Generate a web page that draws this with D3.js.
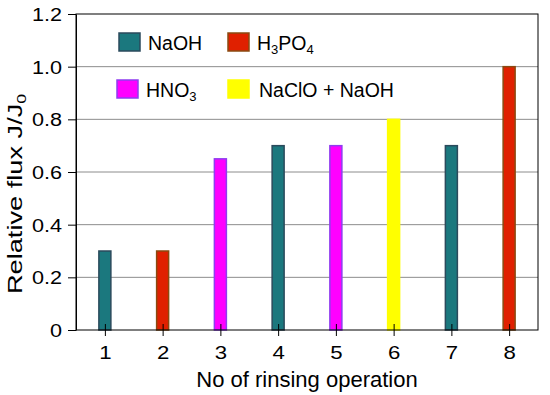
<!DOCTYPE html>
<html>
<head>
<meta charset="utf-8">
<script src="https://cdn.jsdelivr.net/npm/d3@7"></script>
<style>
  body { margin: 0; background: #fff; }
  text { font-family: "Liberation Sans", Arial, sans-serif; fill: #000; }
</style>
</head>
<body>
<div id="chart"></div>
<script>
// data
var operations = [1, 2, 3, 4, 5, 6, 7, 8];
var agents = ["NaOH", "H3PO4", "HNO3", "NaOH", "HNO3", "NaClO + NaOH", "NaOH", "H3PO4"];
var fluxValues = [0.3, 0.3, 0.65, 0.7, 0.7, 0.8, 0.7, 1.0];
var yTicks = [0, 0.2, 0.4, 0.6, 0.8, 1.0, 1.2];
var legendNames = ["NaOH", "H3PO4", "HNO3", "NaClO + NaOH"];

var fills = { "NaOH": "#1b787e", "H3PO4": "#e02000", "HNO3": "#ff00ff", "NaClO + NaOH": "#ffff00" };
var strokes = { "NaOH": "#2b4a5c", "H3PO4": "#8a4a10", "HNO3": "#8f3cf0", "NaClO + NaOH": "#ffff00" };

var width = 550, height = 395,
    margin = { top: 14, right: 12, bottom: 65, left: 76 },
    innerW = width - margin.left - margin.right,
    innerH = height - margin.top - margin.bottom,
    barW = 12;

// the original's lettering is a bit wider than Arial, stretch it
var stretch = function(sel, k) {
    sel.each(function() {
        var len = this.getComputedTextLength();
        d3.select(this).attr("textLength", len * k).attr("lengthAdjust", "spacingAndGlyphs");
    });
};

var svg = d3.select("#chart").append("svg")
    .attr("width", width)
    .attr("height", height);

var g = svg.append("g")
    .attr("transform", "translate(" + margin.left + "," + margin.top + ")");

var x = d3.scaleLinear().domain([0.5, 8.5]).range([0, innerW]);
var y = d3.scaleLinear().domain([0, 1.2]).range([innerH, 0]);

// gridlines
g.append("g").attr("class", "grid")
    .selectAll("line").data(yTicks.filter(function(d) { return d > 0 && d < 1.2; }))
    .enter().append("line")
    .attr("x1", 0).attr("x2", innerW)
    .attr("y1", function(d) { return y(d); })
    .attr("y2", function(d) { return y(d); })
    .attr("stroke", "#8c8c8c")
    .attr("stroke-width", 1);

// bars
g.append("g").selectAll("rect").data(operations).enter().append("rect")
    .attr("x", function(d) { return x(d) - barW / 2; })
    .attr("y", function(d, i) { return y(fluxValues[i]); })
    .attr("width", barW)
    .attr("height", function(d, i) { return innerH - y(fluxValues[i]); })
    .attr("fill", function(d, i) { return fills[agents[i]]; })
    .attr("stroke", function(d, i) { return strokes[agents[i]]; })
    .attr("stroke-width", 1.5);

// frame
g.append("rect")
    .attr("width", innerW).attr("height", innerH)
    .attr("fill", "none").attr("stroke", "#000").attr("stroke-width", 1);

// y axis
var yAxis = d3.axisLeft(y).tickValues(yTicks)
    .tickFormat(function(d) { return d === 0 ? "0" : d3.format(".1f")(d); })
    .tickSizeInner(8).tickSizeOuter(0).tickPadding(6);
var ya = g.append("g").call(yAxis);
ya.select(".domain").attr("stroke", "#000");
ya.selectAll(".tick line").attr("stroke", "#000");
ya.selectAll("text").style("font-size", "18px").style("font-family", "Liberation Sans, Arial, sans-serif")
    .attr("dy", "0.36em");
stretch(ya.selectAll("text"), 1.2);

// x axis
var xAxis = d3.axisBottom(x).tickValues(operations)
    .tickSizeInner(6).tickSizeOuter(0).tickPadding(10);
var xa = g.append("g").attr("transform", "translate(0," + innerH + ")").call(xAxis);
xa.select(".domain").remove();
xa.selectAll(".tick line").attr("y1", -6).attr("stroke", "#000");
xa.selectAll("text").style("font-size", "18.5px").style("font-family", "Liberation Sans, Arial, sans-serif");
stretch(xa.selectAll("text"), 1.2);

// axis titles
svg.append("text")
    .attr("x", margin.left + innerW / 2).attr("y", 387)
    .attr("text-anchor", "middle")
    .style("font-size", "22px")
    .text("No of rinsing operation");

var yt = svg.append("text")
    .attr("transform", "translate(22,194) rotate(-90) scale(1.36,1)")
    .attr("text-anchor", "middle")
    .style("font-size", "20px");
yt.append("tspan").text("Relative flux J/J");
yt.append("tspan").attr("dy", 4).style("font-size", "13px").text("0");

// legend
var legendPos = [[119, 33], [228, 33], [117, 80], [228, 80]];
var lg = svg.append("g").selectAll("g").data(legendNames).enter().append("g")
    .attr("transform", function(d, i) { return "translate(" + legendPos[i][0] + "," + legendPos[i][1] + ")"; });
lg.append("rect")
    .attr("width", 21).attr("height", 18)
    .attr("fill", function(d) { return fills[d]; })
    .attr("stroke", function(d) { return strokes[d]; })
    .attr("stroke-width", 1.5);
lg.each(function(d) {
    var t = d3.select(this).append("text").attr("x", 29).attr("y", 17).style("font-size", "19.5px");
    if (d === "NaClO + NaOH") { t.attr("x", 31).text(d); return; }
    var shift = 0;
    d.match(/[A-Za-z]+|\d/g).forEach(function(p) {
        if (/\d/.test(p)) { t.append("tspan").attr("dy", 4 - shift).style("font-size", "13px").text(p); shift = 4; }
        else { t.append("tspan").attr("dy", -shift).text(p); shift = 0; }
    });
});
</script>
</body>
</html>
